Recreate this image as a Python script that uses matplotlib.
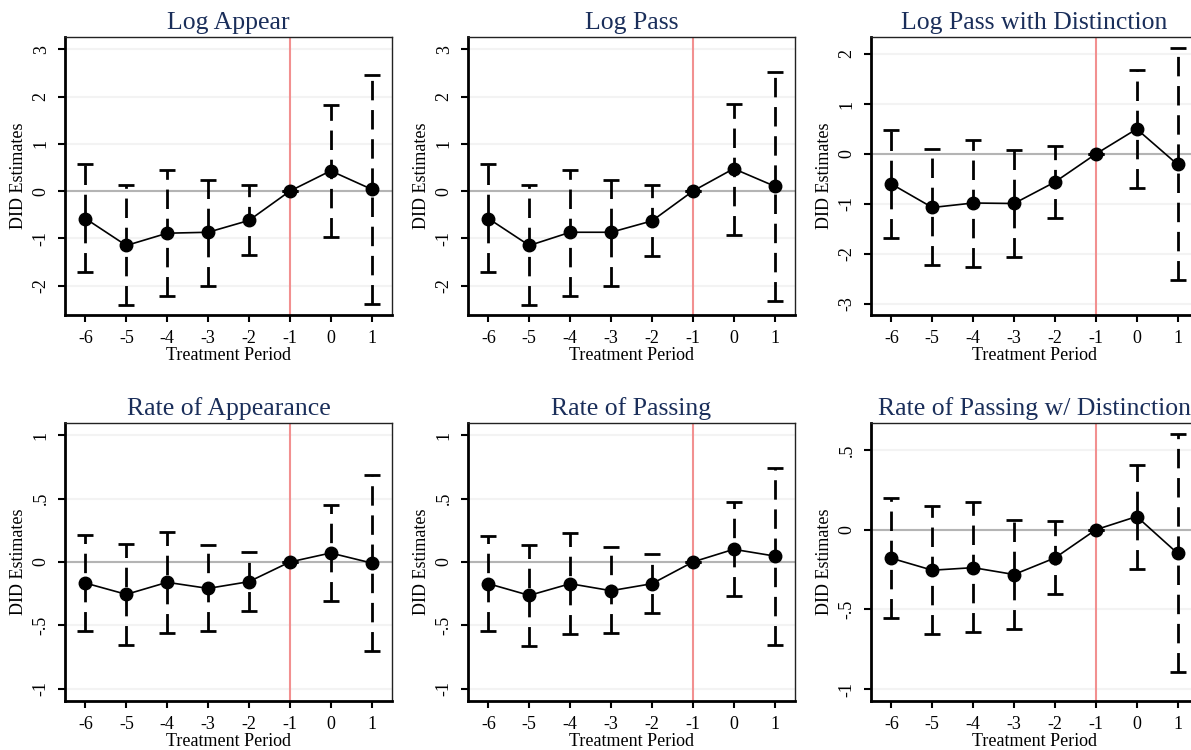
import matplotlib
matplotlib.use("Agg")
import matplotlib.pyplot as plt

plt.rcParams['font.family'] = ['Liberation Serif', 'DejaVu Serif']

periods = [-6, -5, -4, -3, -2, -1, 0, 1]

titles = ["Log Appear", "Log Pass", "Log Pass with Distinction",
          "Rate of Appearance", "Rate of Passing", "Rate of Passing w/ Distinction"]

# point estimates
log_appear = [-0.58, -1.15, -0.89, -0.87, -0.62, 0.0, 0.43, 0.04]
log_pass = [-0.58, -1.15, -0.87, -0.87, -0.63, 0.0, 0.475, 0.105]
log_dist = [-0.60, -1.07, -0.98, -0.99, -0.56, 0.0, 0.50, -0.21]
rate_appear = [-0.166, -0.255, -0.16, -0.208, -0.155, 0.0, 0.071, -0.008]
rate_pass = [-0.171, -0.263, -0.171, -0.226, -0.171, 0.0, 0.10, 0.047]
rate_dist = [-0.179, -0.254, -0.238, -0.281, -0.177, 0.0, 0.083, -0.148]

# confidence intervals (upper, lower)
log_appear_hi = [0.58, 0.12, 0.45, 0.23, 0.13, 0.0, 1.83, 2.45]
log_appear_lo = [-1.72, -2.40, -2.21, -2.00, -1.36, 0.0, -0.98, -2.38]
log_pass_hi = [0.58, 0.12, 0.45, 0.23, 0.13, 0.0, 1.85, 2.52]
log_pass_lo = [-1.72, -2.40, -2.21, -2.00, -1.38, 0.0, -0.92, -2.32]
log_dist_hi = [0.48, 0.10, 0.28, 0.07, 0.15, 0.0, 1.67, 2.11]
log_dist_lo = [-1.68, -2.23, -2.26, -2.06, -1.28, 0.0, -0.69, -2.52]
rate_appear_hi = [0.213, 0.145, 0.237, 0.137, 0.079, 0.0, 0.45, 0.687]
rate_appear_lo = [-0.545, -0.65, -0.56, -0.545, -0.387, 0.0, -0.308, -0.703]
rate_pass_hi = [0.205, 0.137, 0.229, 0.121, 0.063, 0.0, 0.47, 0.742]
rate_pass_lo = [-0.545, -0.658, -0.571, -0.56, -0.403, 0.0, -0.271, -0.65]
rate_dist_hi = [0.198, 0.146, 0.171, 0.0625, 0.052, 0.0, 0.406, 0.598]
rate_dist_lo = [-0.556, -0.656, -0.644, -0.623, -0.406, 0.0, -0.244, -0.892]

log_ticks = [-2, -1, 0, 1, 2, 3]
log_ticklabels = ["-2", "-1", "0", "1", "2", "3"]
dist_ticks = [-3, -2, -1, 0, 1, 2]
dist_ticklabels = ["-3", "-2", "-1", "0", "1", "2"]
rate_ticks = [-1, -0.5, 0, 0.5, 1]
rate_ticklabels = ["-1", "-.5", "0", ".5", "1"]
rdist_ticks = [-1, -0.5, 0, 0.5]
rdist_ticklabels = ["-1", "-.5", "0", ".5"]

panels = [
    (log_appear, log_appear_lo, log_appear_hi, log_ticks, log_ticklabels, (-2.62, 3.26)),
    (log_pass, log_pass_lo, log_pass_hi, log_ticks, log_ticklabels, (-2.62, 3.26)),
    (log_dist, log_dist_lo, log_dist_hi, dist_ticks, dist_ticklabels, (-3.22, 2.34)),
    (rate_appear, rate_appear_lo, rate_appear_hi, rate_ticks, rate_ticklabels, (-1.095, 1.095)),
    (rate_pass, rate_pass_lo, rate_pass_hi, rate_ticks, rate_ticklabels, (-1.095, 1.095)),
    (rate_dist, rate_dist_lo, rate_dist_hi, rdist_ticks, rdist_ticklabels, (-1.075, 0.67)),
]

W, H = 1191, 750
fig = plt.figure(figsize=(W / 100, H / 100), dpi=100)

lefts = [65, 468, 871]
tops = [37, 423]
pw, ph = 327, 278

for i, (est, lo, hi, ticks, ticklabels, ylim) in enumerate(panels):
    r, c = divmod(i, 3)
    ax = fig.add_axes([lefts[c] / W, 1 - (tops[r] + ph) / H, pw / W, ph / H])

    for t in ticks:
        ax.axhline(t, color="#f3f3f3", lw=1.5, zorder=0)
    ax.axhline(0, color="#b4b4b4", lw=1.5, zorder=1)
    ax.axvline(-1, color="#f29090", lw=1.5, zorder=1)

    yerr = [[e - l for e, l in zip(est, lo)], [h - e for e, h in zip(est, hi)]]
    _, caps, bars = ax.errorbar(periods, est, yerr=yerr, fmt="none", ecolor="black",
                                elinewidth=2, capsize=6, capthick=2, zorder=2)
    bars[0].set_linestyle((0, (7, 3.5)))
    ax.plot(periods, est, color="black", lw=1.2, marker="o", ms=9, zorder=3)

    ax.set_xlim(-6.5, 1.5)
    ax.set_ylim(*ylim)
    ax.set_xticks(periods)
    ax.set_xticklabels([str(p) for p in periods])
    ax.set_yticks(ticks)
    ax.set_yticklabels(ticklabels, rotation=90, va="center")
    ax.tick_params(axis="both", direction="out", length=5, width=1.5, labelsize=13, pad=6)
    ax.tick_params(top=False, right=False)

    ax.spines["left"].set_linewidth(2)
    ax.spines["bottom"].set_linewidth(2)
    for s in ["top", "right"]:
        ax.spines[s].set_linewidth(1)
        ax.spines[s].set_color("#222222")

    ax.set_xlabel("Treatment Period", fontsize=13, labelpad=0)
    ax.set_ylabel("DID Estimates", fontsize=13, labelpad=4)
    ax.set_title(titles[i], fontsize=18.5, color="#1a2e5a", pad=6)

fig.savefig("out.png", dpi=100)
